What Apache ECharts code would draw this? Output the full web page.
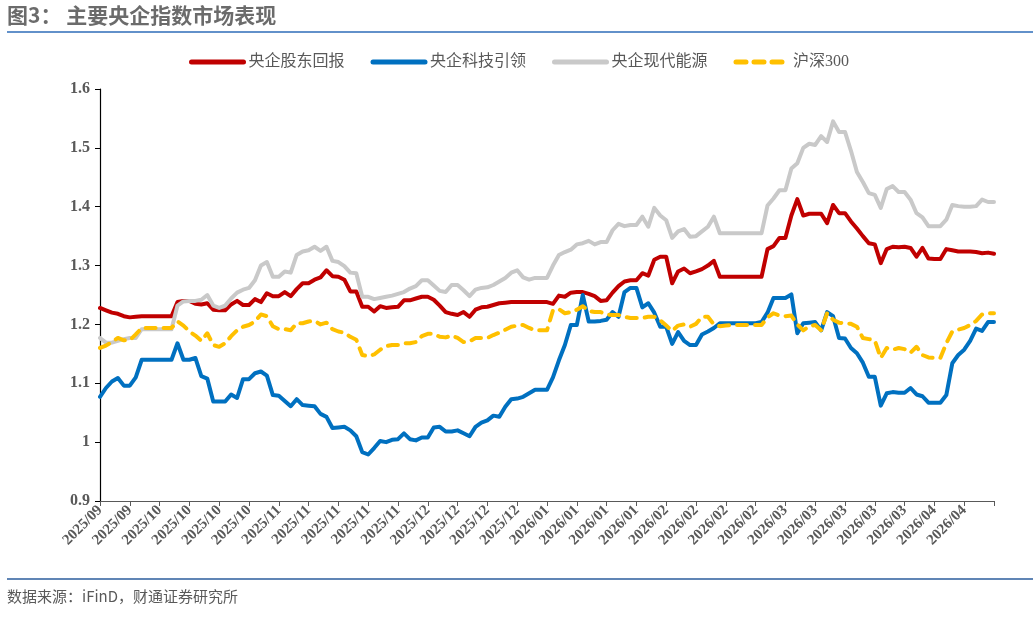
<!DOCTYPE html>
<html>
<head>
<meta charset="utf-8">
<title>图3 主要央企指数市场表现</title>
<script src="https://cdn.jsdelivr.net/npm/echarts@6/dist/echarts.min.js"></script>
<style>
  html, body { margin: 0; padding: 0; background: #fff; }
  #chart { width: 1033px; height: 619px; }
</style>
</head>
<body>
<div id="chart"></div>
<script>
// x 轴标签：每 5 个交易日一个
const tickLabels = ['2025/09', '2025/09', '2025/10', '2025/10', '2025/10', '2025/10',
  '2025/11', '2025/11', '2025/11', '2025/11', '2025/11', '2025/12', '2025/12', '2025/12', '2025/12',
  '2026/01', '2026/01', '2026/01', '2026/01', '2026/02', '2026/02', '2026/02', '2026/02',
  '2026/03', '2026/03', '2026/03', '2026/03', '2026/03', '2026/04', '2026/04'];

// 央企股东回报
const shareholderReturn = [
  1.228, 1.224, 1.220, 1.218, 1.214, 1.212, 1.213, 1.214, 1.214, 1.214,
  1.214, 1.214, 1.214, 1.238, 1.240, 1.240, 1.235, 1.234, 1.236, 1.225,
  1.224, 1.224, 1.234, 1.240, 1.233, 1.233, 1.243, 1.238, 1.253, 1.248,
  1.248, 1.255, 1.248, 1.260, 1.270, 1.270, 1.276, 1.280, 1.292, 1.282,
  1.281, 1.276, 1.256, 1.256, 1.230, 1.230, 1.222, 1.231, 1.228, 1.229,
  1.230, 1.241, 1.241, 1.244, 1.247, 1.247, 1.242, 1.232, 1.221, 1.218,
  1.216, 1.221, 1.213, 1.225, 1.229, 1.230, 1.233, 1.236, 1.237, 1.238,
  1.238, 1.238, 1.238, 1.238, 1.238, 1.238, 1.235, 1.249, 1.247, 1.254,
  1.255, 1.255, 1.252, 1.248, 1.240, 1.241, 1.254, 1.265, 1.273, 1.275,
  1.275, 1.287, 1.283, 1.310, 1.315, 1.315, 1.270, 1.290, 1.295, 1.287,
  1.290, 1.294, 1.300, 1.308, 1.281, 1.281, 1.281, 1.281, 1.281, 1.281,
  1.281, 1.281, 1.328, 1.333, 1.347, 1.347, 1.385, 1.413, 1.385, 1.388,
  1.388, 1.388, 1.372, 1.403, 1.389, 1.389, 1.375, 1.363, 1.350, 1.338,
  1.336, 1.304, 1.328, 1.332, 1.331, 1.332, 1.330, 1.315, 1.330, 1.312,
  1.311, 1.311, 1.328, 1.326, 1.324, 1.324, 1.324, 1.323, 1.321, 1.322,
  1.320
];

// 央企科技引领
const techLead = [
  1.077, 1.092, 1.103, 1.109, 1.096, 1.096, 1.110, 1.140, 1.140, 1.140,
  1.140, 1.140, 1.140, 1.168, 1.140, 1.140, 1.143, 1.112, 1.108, 1.069,
  1.069, 1.069, 1.081, 1.075, 1.107, 1.107, 1.117, 1.120, 1.113, 1.080,
  1.079, 1.070, 1.061, 1.073, 1.063, 1.062, 1.061, 1.048, 1.043, 1.024,
  1.025, 1.026, 1.020, 1.010, 0.983, 0.979, 0.990, 1.002, 1.000, 1.004,
  1.005, 1.015, 1.005, 1.003, 1.008, 1.008, 1.025, 1.026, 1.018, 1.018,
  1.020, 1.015, 1.010, 1.026, 1.033, 1.037, 1.045, 1.043, 1.060, 1.073,
  1.074, 1.077, 1.083, 1.089, 1.089, 1.089, 1.110, 1.139, 1.165, 1.199,
  1.199, 1.250, 1.205, 1.205, 1.206, 1.208, 1.221, 1.213, 1.255, 1.262,
  1.262, 1.229, 1.236, 1.220, 1.196, 1.196, 1.167, 1.187, 1.172, 1.165,
  1.165, 1.183, 1.188, 1.194, 1.202, 1.202, 1.202, 1.202, 1.202, 1.202,
  1.202, 1.204, 1.220, 1.245, 1.245, 1.245, 1.251, 1.185, 1.202, 1.203,
  1.204, 1.190, 1.221, 1.214, 1.177, 1.176, 1.160, 1.151, 1.135, 1.111,
  1.111, 1.062, 1.083, 1.085, 1.084, 1.084, 1.092, 1.081, 1.078, 1.067,
  1.067, 1.067, 1.080, 1.134, 1.148, 1.157, 1.172, 1.193, 1.189, 1.204,
  1.204
];

// 央企现代能源
const modernEnergy = [
  1.177, 1.169, 1.169, 1.172, 1.175, 1.177, 1.177, 1.192, 1.192, 1.192,
  1.192, 1.192, 1.192, 1.232, 1.239, 1.240, 1.240, 1.242, 1.250, 1.232,
  1.228, 1.232, 1.244, 1.254, 1.259, 1.262, 1.275, 1.300, 1.306, 1.281,
  1.281, 1.290, 1.288, 1.318, 1.324, 1.326, 1.332, 1.325, 1.332, 1.308,
  1.306, 1.299, 1.288, 1.287, 1.247, 1.247, 1.243, 1.245, 1.247, 1.249,
  1.252, 1.255, 1.261, 1.265, 1.275, 1.275, 1.266, 1.257, 1.255, 1.267,
  1.267, 1.258, 1.248, 1.259, 1.262, 1.263, 1.267, 1.273, 1.279, 1.288,
  1.292, 1.280, 1.276, 1.279, 1.279, 1.279, 1.300, 1.318, 1.323, 1.327,
  1.336, 1.338, 1.342, 1.336, 1.340, 1.340, 1.360, 1.371, 1.367, 1.369,
  1.369, 1.383, 1.366, 1.398, 1.385, 1.377, 1.347, 1.358, 1.362, 1.349,
  1.350, 1.358, 1.366, 1.383, 1.355, 1.355, 1.355, 1.355, 1.355, 1.355,
  1.355, 1.355, 1.402, 1.414, 1.428, 1.428, 1.465, 1.474, 1.500, 1.507,
  1.505, 1.520, 1.510, 1.545, 1.527, 1.527, 1.495, 1.459, 1.442, 1.423,
  1.420, 1.398, 1.430, 1.435, 1.425, 1.425, 1.412, 1.389, 1.382, 1.367,
  1.367, 1.367, 1.378, 1.403, 1.401, 1.400, 1.400, 1.401, 1.412, 1.408,
  1.408
];

// 沪深300
const hs300 = [
  1.160, 1.164, 1.170, 1.177, 1.173, 1.173, 1.183, 1.194, 1.194, 1.194,
  1.194, 1.194, 1.194, 1.205, 1.198, 1.188, 1.181, 1.172, 1.185, 1.165,
  1.162, 1.168, 1.180, 1.190, 1.196, 1.199, 1.205, 1.217, 1.214, 1.197,
  1.192, 1.192, 1.190, 1.202, 1.202, 1.205, 1.206, 1.200, 1.203, 1.192,
  1.188, 1.186, 1.179, 1.174, 1.148, 1.146, 1.149, 1.157, 1.163, 1.165,
  1.165, 1.168, 1.168, 1.170, 1.180, 1.184, 1.184, 1.179, 1.178, 1.181,
  1.177, 1.170, 1.171, 1.177, 1.177, 1.177, 1.182, 1.186, 1.191, 1.196,
  1.198, 1.199, 1.194, 1.190, 1.190, 1.190, 1.224, 1.226, 1.219, 1.221,
  1.225, 1.231, 1.223, 1.221, 1.221, 1.217, 1.216, 1.216, 1.213, 1.211,
  1.211, 1.211, 1.213, 1.213, 1.207, 1.198, 1.189, 1.198, 1.200, 1.196,
  1.201, 1.213, 1.213, 1.200, 1.197, 1.198, 1.199, 1.199, 1.199, 1.199,
  1.199, 1.199, 1.212, 1.219, 1.215, 1.214, 1.215, 1.200, 1.190, 1.197,
  1.199, 1.190, 1.219, 1.208, 1.203, 1.202, 1.201, 1.196, 1.177, 1.175,
  1.173, 1.143, 1.160, 1.157, 1.160, 1.158, 1.152, 1.162, 1.148, 1.144,
  1.143, 1.143, 1.168, 1.188, 1.191, 1.194, 1.199, 1.206, 1.217, 1.219,
  1.219
];

const seriesNames = ['央企股东回报', '央企科技引领', '央企现代能源', '沪深300'];
const seriesColors = ['#C00000', '#0070C0', '#C9C9C9', '#FFC000'];

// 每个数据点的类别（只有每 5 个点显示一次标签）
const days = shareholderReturn.map(function (_, i) {
  return tickLabels[Math.floor(i / 5)] || tickLabels[tickLabels.length - 1];
});

const TEXT = '#595959';
const SERIF = 'Liberation Serif, "Noto Sans CJK SC", serif';

function lineSeries(idx, data, dashed) {
  return {
    name: seriesNames[idx],
    type: 'line',
    data: data,
    symbol: 'none',
    smooth: false,
    lineStyle: {
      color: seriesColors[idx],
      width: 4,
      type: dashed ? [10, 8] : 'solid',
      cap: 'round',
      join: 'round'
    },
    itemStyle: { color: seriesColors[idx] }
  };
}

const chart = echarts.init(document.getElementById('chart'), null, { renderer: 'canvas' });

chart.setOption({
  animation: false,
  backgroundColor: '#fff',
  title: {
    text: '图3： 主要央企指数市场表现',
    left: 7,
    top: 5,
    padding: 0,
    textStyle: {
      fontFamily: '"Noto Sans CJK SC", sans-serif',
      fontSize: 21,
      fontWeight: 'bold',
      color: '#6b6b6b'
    }
  },
  legend: {
    top: 49,
    left: 184,
    itemWidth: 52,
    itemHeight: 12,
    itemGap: 26,
    itemStyle: { opacity: 0 },
    lineStyle: { width: 5, cap: 'round' },
    textStyle: { fontFamily: SERIF, fontSize: 16, color: TEXT },
    data: seriesNames
  },
  grid: { left: 100, right: 39, top: 89, bottom: 118, containLabel: false },
  xAxis: {
    type: 'category',
    boundaryGap: false,
    data: days,
    axisLine: { lineStyle: { color: '#595959', width: 1.2 } },
    axisTick: {
      interval: function (i) { return i % 5 === 0; },
      length: 5,
      lineStyle: { color: '#595959' }
    },
    axisLabel: {
      interval: function (i) { return i % 5 === 0 && i < days.length - 1; },
      rotate: 45,
      margin: 7,
      fontFamily: SERIF,
      fontWeight: 'bold',
      fontSize: 15,
      color: TEXT
    },
    splitLine: { show: false }
  },
  yAxis: {
    type: 'value',
    min: 0.9,
    max: 1.6,
    interval: 0.1,
    axisLine: { show: true, lineStyle: { color: '#000', width: 1.2 } },
    axisTick: { show: true, length: 5, lineStyle: { color: '#000' } },
    axisLabel: {
      margin: 10,
      fontFamily: SERIF,
      fontWeight: 'bold',
      fontSize: 16,
      color: TEXT,
      formatter: function (v) { return String(+v.toFixed(1)); }
    },
    splitLine: { show: false }
  },
  graphic: [
    { type: 'line', shape: { x1: 7, y1: 32, x2: 1033, y2: 32 }, style: { stroke: '#2E6DB8', lineWidth: 1.5 } },
    { type: 'line', shape: { x1: 7, y1: 579, x2: 1033, y2: 579 }, style: { stroke: '#2B5C9C', lineWidth: 1.5 } },
    {
      type: 'text', left: 7, top: 589,
      style: {
        text: '数据来源：iFinD，财通证券研究所',
        font: '15px "Noto Sans CJK SC", sans-serif',
        fill: TEXT
      }
    }
  ],
  series: [
    lineSeries(0, shareholderReturn, false),
    lineSeries(1, techLead, false),
    lineSeries(2, modernEnergy, false),
    lineSeries(3, hs300, true)
  ]
});
</script>
</body>
</html>
